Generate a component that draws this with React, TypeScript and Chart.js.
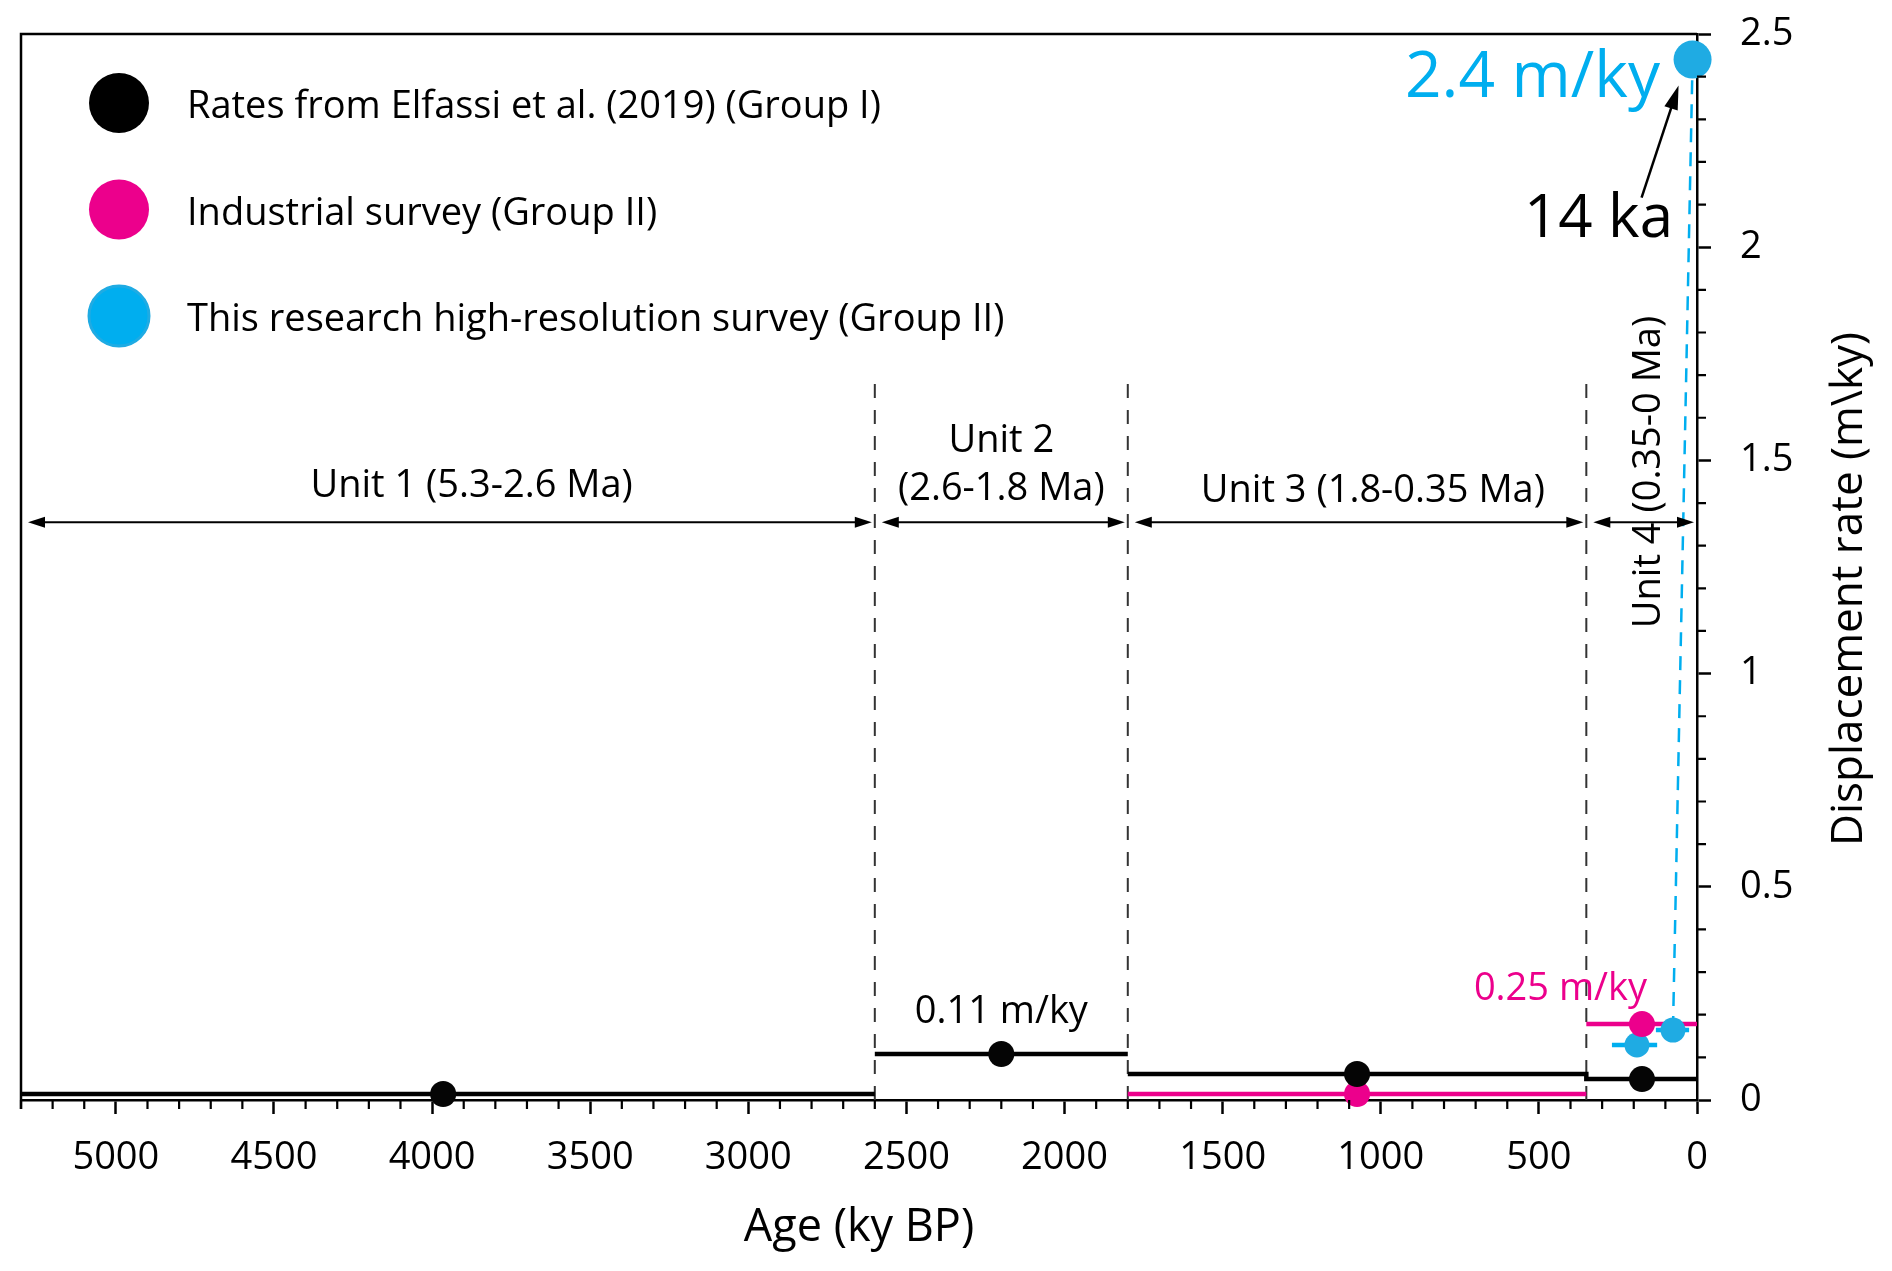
import { useEffect, useRef } from "react"
import { Chart, registerables, type ChartConfiguration, type Plugin } from "chart.js"

Chart.register(...registerables)
Chart.defaults.font.family = "'Open Sans', sans-serif"
Chart.defaults.color = "#000"

// unit boundaries (ky BP) and their names
const unitEdges = [5300, 2600, 1800, 350, 0]
const unitNames = [["Unit 1 (5.3-2.6 Ma)"], ["Unit 2", "(2.6-1.8 Ma)"], ["Unit 3 (1.8-0.35 Ma)"], ["Unit 4 (0.35-0 Ma)"]]
const unitTop = 1.68

// Group I: Elfassi et al. (2019), one rate per unit
const groupIAge = [3965, 2200, 1075, 174]
const groupIRate = [0.014, 0.108, 0.061, 0.049]

// Group II: industrial survey (units 3 and 4)
const industrialUnit = [2, 3]
const industrialAge = [1075, 174]
const industrialRate = [0.014, 0.178]

// Group II: this research, high-resolution survey
const hiResAge = [190, 76, 14]
const hiResRate = [0.129, 0.164, 2.44]
const hiResOldest = [269, 130]
const hiResYoungest = [126, 25]

// axis ticks
const xTickValues = [5000, 4500, 4000, 3500, 3000, 2500, 2000, 1500, 1000, 500, 0]
const yTickValues = [0, 0.5, 1, 1.5, 2, 2.5]

const BLACK = "#000000"
const PINK = "#ec008c"
const BLUE = "#00aeef"
const BLUE_DOT = "#1fabe3"

type Pt = { x: number; y: number | null }

const segment = (from: number, to: number, y: number): Pt[] => [
  { x: from, y },
  { x: to, y },
]
const gap = (x: number): Pt => ({ x, y: null })

const groupILine: Pt[] = [
  ...segment(unitEdges[0], unitEdges[1], groupIRate[0]),
  gap(unitEdges[1]),
  ...segment(unitEdges[1], unitEdges[2], groupIRate[1]),
  gap(unitEdges[2]),
  // units 3 and 4 are joined by a step
  ...segment(unitEdges[2], unitEdges[3], groupIRate[2]),
  ...segment(unitEdges[3], unitEdges[4], groupIRate[3]),
]

const industrialLine: Pt[] = industrialUnit.flatMap((u, i) => [
  ...segment(unitEdges[u], unitEdges[u + 1], industrialRate[i]),
  gap(unitEdges[u + 1]),
])

const hiResBars: Pt[] = hiResOldest.flatMap((old, i) => [
  ...segment(old, hiResYoungest[i], hiResRate[i]),
  gap(hiResYoungest[i]),
])

const hiResLink: Pt[] = [
  { x: hiResAge[1], y: hiResRate[1] },
  { x: hiResAge[2], y: hiResRate[2] },
]

const unitDividers: Pt[] = unitEdges.slice(1, 4).flatMap((e) => [
  { x: e, y: 0 },
  { x: e, y: unitTop },
  gap(e),
])

const legendItems = [
  { label: "Rates from Elfassi et al. (2019) (Group I)", color: BLACK },
  { label: "Industrial survey (Group II)", color: PINK },
  { label: "This research high-resolution survey (Group II)", color: BLUE },
]

function arrowHead(ctx: CanvasRenderingContext2D, tipX: number, tipY: number, ang: number, len: number, half: number) {
  ctx.save()
  ctx.translate(tipX, tipY)
  ctx.rotate(ang)
  ctx.beginPath()
  ctx.moveTo(0, 0)
  ctx.lineTo(-len, -half)
  ctx.lineTo(-len, half)
  ctx.closePath()
  ctx.fill()
  ctx.restore()
}

const decor: Plugin<"line"> = {
  id: "decor",
  afterDraw(chart) {
    const { ctx, chartArea: a } = chart
    const x = chart.scales.x
    const y = chart.scales.y
    ctx.save()

    // frame on the top and left
    ctx.strokeStyle = BLACK
    ctx.lineWidth = 2.5
    ctx.beginPath()
    ctx.moveTo(a.left, a.bottom + 9)
    ctx.lineTo(a.left, a.top)
    ctx.lineTo(a.right, a.top)
    ctx.stroke()

    // minor ticks
    ctx.lineWidth = 2.2
    ctx.beginPath()
    for (let v = 100; v <= x.max; v += 100) {
      if (v % 500 === 0) continue
      const px = x.getPixelForValue(v)
      ctx.moveTo(px, a.bottom)
      ctx.lineTo(px, a.bottom + 9)
    }
    for (let i = 1; i < 25; i++) {
      if (i % 5 === 0) continue
      const py = y.getPixelForValue(i / 10)
      ctx.moveTo(a.right, py)
      ctx.lineTo(a.right + 9, py)
    }
    ctx.stroke()

    // unit arrows
    const ay = y.getPixelForValue(1.355)
    ctx.fillStyle = BLACK
    ctx.lineWidth = 2
    for (let i = 0; i < 4; i++) {
      const x1 = x.getPixelForValue(unitEdges[i]) + 7
      const x2 = x.getPixelForValue(unitEdges[i + 1]) - 3
      ctx.beginPath()
      ctx.moveTo(x1 + 8, ay)
      ctx.lineTo(x2 - 8, ay)
      ctx.stroke()
      arrowHead(ctx, x1, ay, Math.PI, 17, 5.5)
      arrowHead(ctx, x2, ay, 0, 17, 5.5)
    }

    // unit labels
    ctx.font = "38px 'Open Sans', sans-serif"
    ctx.textAlign = "center"
    ctx.textBaseline = "alphabetic"
    ctx.fillText(unitNames[0][0], x.getPixelForValue(3875), 497)
    ctx.fillText(unitNames[1][0], x.getPixelForValue(2200), 452)
    ctx.fillText(unitNames[1][1], x.getPixelForValue(2200), 500)
    ctx.fillText(unitNames[2][0], x.getPixelForValue(1025), 502)
    ctx.save()
    ctx.translate(x.getPixelForValue(118), 472)
    ctx.rotate(-Math.PI / 2)
    ctx.fillText(unitNames[3][0], 0, 0)
    ctx.restore()

    // rate annotations
    ctx.fillText("0.11 m/ky", x.getPixelForValue(2200), y.getPixelForValue(0.18))
    ctx.textAlign = "right"
    ctx.fillStyle = PINK
    ctx.fillText("0.25 m/ky", x.getPixelForValue(158), y.getPixelForValue(0.234))
    ctx.fillStyle = BLUE
    ctx.font = "64px 'Open Sans', sans-serif"
    ctx.fillText("2.4 m/ky", x.getPixelForValue(117), y.getPixelForValue(2.352))
    ctx.fillStyle = BLACK
    ctx.font = "60px 'Open Sans', sans-serif"
    ctx.fillText("14 ka", x.getPixelForValue(76), y.getPixelForValue(2.023))

    // arrow to the 14 ka point
    const cx = x.getPixelForValue(hiResAge[2])
    const cy = y.getPixelForValue(hiResRate[2])
    const tx = cx - 51
    const ty = cy + 138
    const hx = cx - 14
    const hy = cy + 26
    const ang = Math.atan2(hy - ty, hx - tx)
    ctx.lineWidth = 2.5
    ctx.beginPath()
    ctx.moveTo(tx, ty)
    ctx.lineTo(hx - Math.cos(ang) * 14, hy - Math.sin(ang) * 14)
    ctx.stroke()
    arrowHead(ctx, hx, hy, ang, 24, 7)

    // legend
    ctx.font = "38px 'Open Sans', sans-serif"
    ctx.textAlign = "left"
    legendItems.forEach((item, i) => {
      const ly = 103 + i * 106.5
      ctx.beginPath()
      ctx.arc(119, ly, 30, 0, Math.PI * 2)
      ctx.fillStyle = item.color
      ctx.fill()
      if (item.color === BLUE) {
        ctx.strokeStyle = BLUE_DOT
        ctx.lineWidth = 3
        ctx.stroke()
      }
      ctx.fillStyle = BLACK
      ctx.fillText(item.label, 187, ly + 15)
    })

    // y axis title, reading upwards
    ctx.save()
    ctx.translate(1862, 589)
    ctx.rotate(-Math.PI / 2)
    ctx.textAlign = "center"
    ctx.font = "44px 'Open Sans', sans-serif"
    ctx.fillText("Displacement rate (m\\ky)", 0, 0)
    ctx.restore()

    ctx.restore()
  },
}

export default function App() {
  const chartRef = useRef<HTMLCanvasElement>(null)
  const chartInstance = useRef<Chart | null>(null)

  useEffect(() => {
    document.body.style.margin = "0"
    if (!chartRef.current) return
    const ctx = chartRef.current.getContext("2d")
    if (!ctx) return

    if (chartInstance.current) {
      chartInstance.current.destroy()
    }

    const lineDefaults = {
      type: "line" as const,
      pointRadius: 0,
      fill: false,
      tension: 0,
      spanGaps: false,
      borderCapStyle: "butt" as const,
    }

    // keep the plot box fixed: no extra room for end labels
    const noPadding = (scale: any) => {
      scale.paddingTop = 0
      scale.paddingBottom = 0
      scale.paddingLeft = 0
      scale.paddingRight = 0
    }

    const config: ChartConfiguration = {
      type: "line",
      data: {
        datasets: [
          {
            type: "scatter",
            label: "Rates from Elfassi et al. (2019) (Group I)",
            data: groupIAge.map((a, i) => ({ x: a, y: groupIRate[i] })),
            pointRadius: 13,
            backgroundColor: "#050505",
            borderWidth: 0,
            clip: false,
            order: 0,
          },
          {
            type: "scatter",
            label: "Industrial survey (Group II)",
            data: industrialAge.map((a, i) => ({ x: a, y: industrialRate[i] })),
            pointRadius: 13,
            backgroundColor: PINK,
            borderWidth: 0,
            clip: false,
            order: 0,
          },
          {
            type: "scatter",
            label: "This research high-resolution survey (Group II)",
            data: hiResAge.map((a, i) => ({ x: a, y: hiResRate[i] })),
            pointRadius: [12.5, 12.5, 19],
            backgroundColor: BLUE_DOT,
            borderWidth: 0,
            clip: false,
            order: 0,
          },
          { ...lineDefaults, data: groupILine, borderColor: BLACK, borderWidth: 4.5, order: 1 },
          { ...lineDefaults, data: industrialLine, borderColor: PINK, borderWidth: 4.5, order: 1 },
          { ...lineDefaults, data: hiResBars, borderColor: BLUE, borderWidth: 4.5, order: 1 },
          { ...lineDefaults, data: hiResLink, borderColor: BLUE, borderWidth: 2.5, borderDash: [14, 10], order: 2 },
          { ...lineDefaults, data: unitDividers, borderColor: "#333333", borderWidth: 2, borderDash: [14, 12], order: 3 },
        ] as any,
      },
      options: {
        responsive: true,
        maintainAspectRatio: false,
        animation: false,
        events: [],
        layout: { padding: { left: 21, top: 34, right: 0, bottom: 0 } },
        scales: {
          x: {
            type: "linear",
            position: "bottom",
            reverse: true,
            min: 0,
            max: 5300,
            afterBuildTicks: (scale) => {
              scale.ticks = xTickValues.map((value) => ({ value }))
            },
            afterFit: (scale) => {
              scale.height = 171
              noPadding(scale)
            },
            ticks: {
              font: { size: 38 },
              padding: 21,
              maxRotation: 0,
              autoSkip: false,
              callback: (value) => String(value),
            },
            grid: {
              display: true,
              drawOnChartArea: false,
              drawTicks: true,
              tickLength: 14,
              tickWidth: 2.5,
              tickColor: BLACK,
            },
            border: { display: true, color: BLACK, width: 2.5 },
            title: {
              display: true,
              text: "Age (ky BP)",
              font: { size: 45 },
              padding: { top: 0, bottom: 16 },
            },
          },
          y: {
            type: "linear",
            position: "right",
            min: 0,
            max: 2.5,
            afterBuildTicks: (scale) => {
              scale.ticks = yTickValues.map((value) => ({ value }))
            },
            afterFit: (scale) => {
              scale.width = 195
              noPadding(scale)
            },
            ticks: {
              font: { size: 38 },
              padding: 29,
              autoSkip: false,
              callback: (value) => String(value),
            },
            grid: {
              display: true,
              drawOnChartArea: false,
              drawTicks: true,
              tickLength: 14,
              tickWidth: 2.5,
              tickColor: BLACK,
            },
            border: { display: true, color: BLACK, width: 2.5 },
          },
        },
        plugins: {
          legend: { display: false },
          tooltip: { enabled: false },
        },
      },
      plugins: [decor as Plugin],
    }

    chartInstance.current = new Chart(ctx, config)

    return () => {
      if (chartInstance.current) {
        chartInstance.current.destroy()
        chartInstance.current = null
      }
    }
  }, [])

  return (
    <div style={{ position: "relative", width: 1892, height: 1271 }}>
      <canvas ref={chartRef} />
    </div>
  )
}
